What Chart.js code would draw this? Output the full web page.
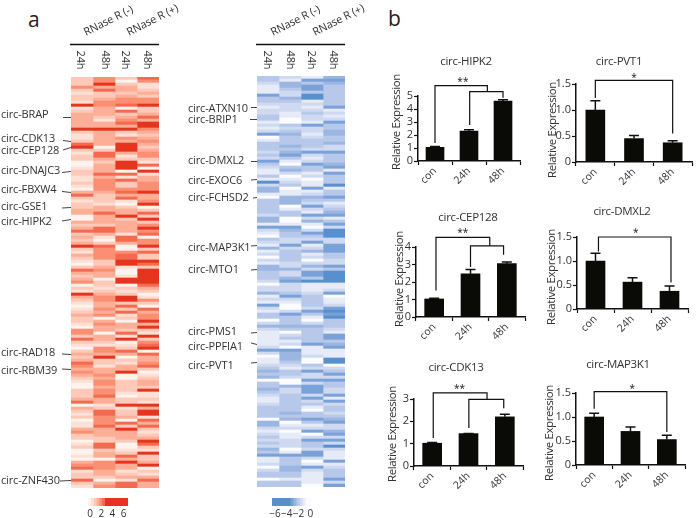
<!DOCTYPE html>
<html lang="en">
<head>
<meta charset="UTF-8" />
<title>circRNA heatmaps and qPCR</title>
<script src="https://cdn.jsdelivr.net/npm/chart.js@4"></script>
<style>
html, body { margin: 0; padding: 0; background: #fff; overflow: hidden; }
#page { position: relative; width: 696px; height: 518px; overflow: hidden; }
canvas { position: absolute; filter: blur(0.4px); }
.letter { position: absolute; font: 21px "Open Sans", sans-serif; color: #222; line-height: 24px; }
</style>
</head>
<body>
<div id="page">
    <div class="letter" style="left:28px;top:7px">a</div>
    <div class="letter" style="left:388px;top:6px">b</div>
</div>
<script>

// heatmap columns, one number per row
const redCol1 = [
    2,2,2,4,2,1,2,2,1,6, 1,2,3,3,3,3,3,6,2,1, 1,2,5,6,2,1,2,2,0,0, 1,2,2,1,1,2,1,0,3,5,
    2,1,2,2,3,3,0,0,3,2, 3,5,2,3,2,3,6,2,1,3, 2,1,0,2,5,3,2,3,4,0, 2,1,6,3,2,1,0,1,2,3,
    2,2,1,0,4,4,2,5,2,1, 0,2,3,2,3,5,4,3,4,3, 2,1,0,0,2,2,2,3,5,0, 3,2,1,2,0,1,1,3,4,2,
    2,0,1,2,0,0,1,0,3,4, 5,1,2,2,5,2,1];
const redCol2 = [
    4,4,6,3,5,2,2,3,4,4, 3,3,3,2,1,3,3,6,3,3, 3,3,3,0,2,5,5,3,2,3, 3,3,5,3,4,4,4,4,3,2,
    2,2,1,3,3,5,3,3,3,2, 5,5,3,1,0,2,5,4,4,4, 4,2,2,3,4,3,3,0,2,2, 1,2,3,4,4,3,3,4,3,4,
    0,3,4,3,3,0,3,3,2,1, 4,4,3,6,2,2,1,3,3,4, 3,4,4,3,4,4,5,3,3,1, 2,5,5,4,4,4,5,3,3,3,
    2,2,5,5,2,3,3,0,4,4, 4,3,3,2,0,3,4];
const redCol3 = [
    2,0,2,3,3,2,3,4,4,5, 0,5,2,3,4,5,3,6,2,1, 4,3,6,6,6,3,1,2,6,6, 6,0,5,1,5,2,2,4,5,3,
    5,1,0,2,3,3,6,2,3,3, 3,3,1,5,5,3,0,0,4,5, 5,6,6,1,0,0,1,6,6,0, 2,1,2,6,6,2,5,2,5,1,
    2,0,3,3,2,5,1,6,0,1, 2,5,3,0,2,1,3,3,6,0, 0,2,2,2,2,1,0,2,2,6, 1,2,2,3,0,5,2,6,3,3,
    3,2,0,0,1,2,5,3,6,3, 3,1,2,3,1,5,5];
const redCol4 = [
    5,4,1,1,2,3,2,4,4,6, 2,2,3,5,3,6,6,4,3,2, 3,4,3,2,3,4,4,2,1,5, 0,6,1,3,3,4,4,4,6,3,
    3,4,6,0,2,5,2,6,2,4, 6,4,5,0,4,4,6,2,5,2, 2,6,5,2,6,6,6,6,6,5, 3,2,0,1,4,2,0,5,3,4,
    4,6,3,6,2,1,6,2,4,5, 6,0,5,3,3,4,5,2,0,1, 2,3,3,2,6,1,1,2,1,6, 3,6,6,1,5,3,5,2,1,2,
    3,6,5,2,1,6,2,2,3,6, 0,2,1,3,5,3,3];

const blueCol1 = [
    -3,-3,-2,-1,-1,-1,-5,-3,-3,-2, -1,-2,-2,-3,-3,-1,-2,-1,-2,-5, 0,-1,-3,-3,-3,-2,-3,-2,-5,-3,
    -2,-1,-1,-3,-1,-6,-2,-4,-4,-1, 0,-3,-3,-3,-3,-3,-2,-4,-4,-1, -5,-2,-1,0,-3,-2,-1,-4,-1,-2,
    0,-2,-1,-4,-4,-3,-3,-3,-2,0, -2,-2,-4,-1,-2,-1,-5,-2,-1,-3, -3,0,-2,-4,-2,-1,-1,-1,-1,-1,
    -2,-5,-2,0,-1,-1,-2,-3,-4,-3, -4,0,-3,-3,-4,-3,-2,-1,-1,-2, -3,-3,-3,-3,0,-4,-4,-2,-1,-2,
    -3,-2,-3,-2,-4,-3,-5,-1,-1,-2, 0,-2,-3,-3,0,-3,-3];
const blueCol2 = [
    -2,-1,-4,-4,-3,-2,-2,-4,-3,-2, -2,-2,-1,-1,0,0,-3,-2,-3,-4, -3,-3,-3,-4,-3,-4,-5,-3,-1,0,
    -3,-4,-2,0,-1,-2,-3,0,-1,-1, -4,-4,-4,0,-1,-3,-3,0,0,-1, -5,-4,-3,-3,-2,-2,-5,-2,-3,-3,
    -3,-3,-2,-2,-4,-2,-2,-4,-5,-2, -2,-2,-3,-5,-2,-1,0,0,-2,-5, -3,-3,-3,-4,-3,0,-2,-3,-1,-2,
    0,-5,-4,-4,-4,-3,-2,-1,-3,-3, -2,0,0,-4,-2,-2,-3,-3,-3,-3, -3,-3,-4,-3,-4,0,-1,-2,0,-1,
    -1,-2,-2,-2,0,-1,-5,-3,-3,-3, -4,-4,-3,-3,-1,-3,-3];
const blueCol3 = [
    -1,-5,-3,-5,-5,-3,-6,-6,-1,-2, -1,-2,-3,-2,-2,-1,-5,-2,-2,-1, -2,-3,-3,-3,-2,-5,-2,-1,-2,-5,
    -3,-3,-1,-2,0,-1,-1,-5,-1,-2, -4,-3,-2,-5,-2,-1,-5,-2,-4,-1, 0,-2,-5,-3,-2,-5,-1,-2,-4,-1,
    -2,0,-2,-4,-2,-5,-5,-3,-6,-1, -1,-1,-2,-3,-3,-3,-3,-2,-5,-3, -1,0,-2,-4,-3,-3,-3,-3,-3,-5,
    -1,-1,-1,-2,0,0,-3,-2,-5,-2, -2,-5,-2,-5,-5,-5,-2,-5,-2,-3, -1,0,-3,-3,-5,-3,-1,-2,-5,0,
    -2,-5,-3,-3,-2,-5,-5,-2,0,-1, -5,-2,-1,-1,-1,-1,0];
const blueCol4 = [
    -4,-5,-4,-3,-3,-3,-3,-3,-3,-3, -5,-1,-2,-1,-2,-5,-3,-3,-4,-4, -3,-3,-4,-2,-2,-5,-3,-3,-3,-4,
    -5,-1,-5,-3,-3,-3,-6,-1,-3,-3, -5,-3,-1,-2,-3,-4,-5,-1,-3,-5, -2,-6,-6,-6,-2,-2,-5,-5,-5,-3,
    -3,-2,-2,-5,-3,-6,-6,-6,-6,-1, -1,-2,-5,0,-1,-1,-2,-5,-6,-5, -6,-3,-3,-3,-2,-1,-5,-5,-3,-4,
    -5,-1,-1,-1,-6,-6,0,-2,-3,-5, -2,-5,-3,-3,-2,-2,-5,-1,-5,-2, -3,-3,-2,-3,-4,-5,-2,-2,-4,-5,
    -2,-5,-2,-6,-2,-1,-1,-1,-5,-1, -2,-3,-3,-3,-5,-2,-5];

const redGenes = ['circ-BRAP','circ-CDK13','circ-CEP128','circ-DNAJC3','circ-FBXW4','circ-GSE1','circ-HIPK2','circ-RAD18','circ-RBM39','circ-ZNF430'];
const redGeneRows = [13,21,23,31,38,43,47,92,97,134];
const blueGenes = ['circ-ATXN10','circ-BRIP1','circ-DMXL2','circ-EXOC6','circ-FCHSD2','circ-MAP3K1','circ-MTO1','circ-PMS1','circ-PPFIA1','circ-PVT1'];
const blueGeneRows = [10,14,28,34,40,56,64,85,89,95];

const timeLabels = ['24h','48h','24h','48h'];
const headerLabels = ['RNase R (-)','RNase R (+)'];

const redLegendEdges = [-0.4,0.1,0.6,1.1,1.6,2.1,2.6,6.8];
const redLegendLevels = [0,1,2,3,4,5,6];
const blueLegendEdges = [-6.5,-3.4,-2.9,-2.4,-1.9,-1.4,-0.9,0.1];
const blueLegendLevels = [-6,-5,-4,-3,-2,-1,0];

// qPCR bars
const categories = ['con','24h','48h'];
const hipk2Values = [1.05,2.3,4.6];
const hipk2Err = [0.07,0.1,0.12];
const pvt1Values = [1.0,0.45,0.37];
const pvt1Err = [0.18,0.06,0.04];
const cep128Values = [1.03,2.47,3.05];
const cep128Err = [0.04,0.25,0.1];
const dmxl2Values = [1.0,0.56,0.37];
const dmxl2Err = [0.16,0.09,0.11];
const cdk13Values = [1.02,1.45,2.2];
const cdk13Err = [0.03,0.01,0.12];
const map3k1Values = [1.0,0.7,0.53];
const map3k1Err = [0.08,0.09,0.09];

const redStops = ['#fff3ee','#fee0d5','#fdc9b8','#fcae97','#fb8f74','#f46a50','#e5351f'];
const blueStops = ['#fbfcff','#e6ebf7','#cfdaf1','#b7c8ea','#9bb6e1','#7aa2d8','#5890cf'];
const FONT = '"Open Sans", sans-serif';
const TEXT = '#333';

const page = document.getElementById('page');

function addCanvas(left, top, w, h) {
    const c = document.createElement('canvas');
    c.width = w;
    c.height = h;
    c.style.left = left + 'px';
    c.style.top = top + 'px';
    c.style.width = w + 'px';
    c.style.height = h + 'px';
    page.appendChild(c);
    return c.getContext('2d');
}

function heatmap(o) {
    const ctx = addCanvas(o.left, 0, o.width, 500);
    const rows = o.cols[0].map((_, i) => i);
    new Chart(ctx, {
        type: 'bar',
        data: {
            labels: rows,
            datasets: o.cols.map(col => ({
                data: col.map(() => 1),
                backgroundColor: col.map(v => o.stops[Math.abs(v)]),
                borderWidth: 0,
                barPercentage: 1,
                categoryPercentage: 1
            }))
        },
        options: {
            indexAxis: 'y',
            responsive: false,
            animation: false,
            events: [],
            layout: { padding: { left: o.x0 - o.left, right: o.left + o.width - o.x1, top: o.y0, bottom: 500 - o.y1 } },
            plugins: { legend: { display: false }, tooltip: { enabled: false } },
            scales: {
                x: { stacked: true, display: false, min: 0, max: 4 },
                y: { stacked: true, display: false }
            }
        },
        plugins: [{
            id: 'heatDecor',
            afterDraw(chart) {
                const c = chart.ctx;
                const yScale = chart.scales.y;
                c.save();
                c.fillStyle = TEXT;
                c.font = '11px ' + FONT;
                c.letterSpacing = '-0.15px';
                c.textBaseline = 'middle';
                o.genes.forEach((g, i) => {
                    c.textAlign = 'left';
                    c.fillText(g, o.labelX - o.left, o.labelY[i]);
                    c.strokeStyle = '#444';
                    c.lineWidth = 1;
                    c.beginPath();
                    c.moveTo(o.leadX[i] - o.left, o.leadY[i]);
                    c.lineTo(chart.chartArea.left, yScale.getPixelForValue(o.rows[i]));
                    c.stroke();
                });
                // header rule
                c.strokeStyle = '#111';
                c.lineWidth = 1.4;
                c.beginPath();
                c.moveTo(o.x0 - o.left - 1, 44.5);
                c.lineTo(o.x1 - o.left, 44.5);
                c.stroke();
                headerLabels.forEach((t, i) => {
                    c.save();
                    c.translate(o.headX[i] - o.left, 36);
                    c.rotate(-27 * Math.PI / 180);
                    c.textAlign = 'left';
                    c.textBaseline = 'alphabetic';
                    c.fillText(t, 0, 0);
                    c.restore();
                });
                timeLabels.forEach((t, i) => {
                    c.save();
                    c.translate(o.timeX[i] - o.left, 60);
                    c.rotate(Math.PI / 2);
                    c.textAlign = 'center';
                    c.fillText(t, 0, 0);
                    c.restore();
                });
                c.restore();
            }
        }]
    });
}

function colorbar(o) {
    const pad = 10;
    const ctx = addCanvas(o.x0 - pad, 498, o.x1 - o.x0 + 2 * pad, 20);
    new Chart(ctx, {
        type: 'bar',
        data: {
            labels: ['scale'],
            datasets: o.levels.map((lv, i) => ({
                data: [[o.edges[i], o.edges[i + 1]]],
                backgroundColor: o.stops[Math.abs(lv)],
                borderWidth: 0,
                grouped: false,
                barPercentage: 1,
                categoryPercentage: 1
            }))
        },
        options: {
            indexAxis: 'y',
            responsive: false,
            animation: false,
            events: [],
            layout: { padding: { left: pad, right: pad, top: 0, bottom: 0 } },
            plugins: { legend: { display: false }, tooltip: { enabled: false } },
            scales: {
                y: { display: false },
                x: {
                    min: o.edges[0],
                    max: o.edges[o.edges.length - 1],
                    grid: { display: false, drawTicks: false },
                    border: { display: false },
                    ticks: {
                        stepSize: 2,
                        autoSkip: false,
                        includeBounds: false,
                        maxRotation: 0,
                        padding: 2,
                        color: TEXT,
                        font: { family: FONT, size: 10 },
                        callback: v => String(v).replace('-', '\u2212')
                    },
                    afterFit(s) { s.height = 12; s.paddingLeft = 0; s.paddingRight = 0; }
                }
            }
        }
    });
}

heatmap({
    left: 0, width: 190, x0: 71, x1: 159, y0: 77, y1: 488,
    cols: [redCol1, redCol2, redCol3, redCol4], stops: redStops,
    genes: redGenes, rows: redGeneRows, labelX: 1,
    labelY: [115,139,151,171,190,207,222,353,371,481],
    leadX: [63,63,63,62,62,62,62,62,62,60],
    leadY: [117.5,140.5,150,172.5,191.5,208,221,354,369,481],
    headX: [86,129], timeX: [80,105,125,147]
});
heatmap({
    left: 180, width: 195, x0: 257, x1: 345, y0: 76, y1: 487,
    cols: [blueCol1, blueCol2, blueCol3, blueCol4], stops: blueStops,
    genes: blueGenes, rows: blueGeneRows, labelX: 188,
    labelY: [109,120,161,181,198,248,270,332,347,366],
    leadX: [251,250,251,251,253,251,251,251,251,251],
    leadY: [107.5,119.5,161.5,180,198,246,270,333,343,363],
    headX: [273,315], timeX: [267,290,311,333]
});
colorbar({ x0: 88, x1: 128, edges: redLegendEdges, levels: redLegendLevels, stops: redStops });
colorbar({ x0: 272, x1: 311, edges: blueLegendEdges, levels: blueLegendLevels, stops: blueStops });

function barPanel(o) {
    const left = o.yTitleX - 9;
    const top = o.titleY - 10;
    const bottom = o.y0 + 34;
    const right = Math.min(696, o.x1 + 6);
    const ctx = addCanvas(left, top, right - left, bottom - top);
    new Chart(ctx, {
        type: 'bar',
        data: {
            labels: categories,
            datasets: [{ data: o.values, backgroundColor: '#0a0a06', borderWidth: 0, barThickness: o.barW }]
        },
        options: {
            responsive: false,
            animation: false,
            events: [],
            layout: { padding: { left: 0, right: right - o.x1, top: o.yTop - top, bottom: 0 } },
            plugins: { legend: { display: false }, tooltip: { enabled: false } },
            scales: {
                x: {
                    grid: { drawOnChartArea: false, tickLength: 4, tickColor: '#111', tickWidth: 1.2 },
                    border: { color: '#111', width: 1.5 },
                    ticks: { color: TEXT, minRotation: 45, maxRotation: 45, padding: 0, font: { family: FONT, size: 10.5 } },
                    afterFit(s) { s.height = bottom - o.y0; s.paddingLeft = 0; s.paddingRight = 0; }
                },
                y: {
                    min: 0,
                    max: o.max,
                    grid: { drawOnChartArea: false, tickLength: 4, tickColor: '#111', tickWidth: 1.2 },
                    border: { color: '#111', width: 1.5 },
                    ticks: { color: TEXT, stepSize: o.step, autoSkip: false, padding: 1, font: { family: FONT, size: 11 } },
                    afterFit(s) { s.width = o.x0 - left; s.paddingTop = 0; s.paddingBottom = 0; }
                }
            }
        },
        plugins: [{
            id: 'panelDecor',
            afterDatasetsDraw(chart) {
                const c = chart.ctx;
                const xs = chart.scales.x;
                const ys = chart.scales.y;
                c.save();
                // error bars
                c.strokeStyle = '#111';
                c.lineWidth = 1.5;
                o.values.forEach((v, i) => {
                    const px = xs.getPixelForValue(i);
                    const top = ys.getPixelForValue(v + o.err[i]);
                    c.beginPath();
                    c.moveTo(px, ys.getPixelForValue(v));
                    c.lineTo(px, top);
                    c.moveTo(px - 5, top);
                    c.lineTo(px + 5, top);
                    c.stroke();
                });
                // significance brackets, x as category position and y as value
                const toX = a => xs.getPixelForValue(0) + a * (xs.getPixelForValue(1) - xs.getPixelForValue(0));
                c.lineWidth = 1.2;
                o.brackets.forEach(line => {
                    c.beginPath();
                    line.forEach((p, i) => {
                        if (i === 0) c.moveTo(toX(p[0]), ys.getPixelForValue(p[1]));
                        else c.lineTo(toX(p[0]), ys.getPixelForValue(p[1]));
                    });
                    c.stroke();
                });
                c.fillStyle = '#111';
                c.font = '10px ' + FONT;
                c.textAlign = 'center';
                c.textBaseline = 'middle';
                c.fillText(o.star, toX(o.starAt[0]), ys.getPixelForValue(o.starAt[1]));
                // panel title and y title
                c.fillStyle = TEXT;
                c.font = '11.5px ' + FONT;
                c.letterSpacing = '-0.3px';
                c.fillText(o.title, o.titleX - left, o.titleY - top);
                c.save();
                c.translate(o.yTitleX - left, o.yTitleC - top);
                c.rotate(-Math.PI / 2);
                c.font = '11.5px ' + FONT;
                c.letterSpacing = '-0.4px';
                c.fillText('Relative Expression', 0, 0);
                c.restore();
                c.restore();
            }
        }]
    });
}

barPanel({
    title: 'circ-HIPK2', values: hipk2Values, err: hipk2Err, max: 5, step: 1, barW: 18,
    x0: 418, x1: 520, y0: 161, yTop: 96, titleX: 466, titleY: 62, yTitleX: 397, yTitleC: 122,
    brackets: [[[0,1.38],[0,5.8],[1.54,5.8],[1.54,5.33]], [[1.02,2.77],[1.02,5.33],[2,5.33],[2,4.87]]],
    star: '**', starAt: [0.82,6.1]
});
barPanel({
    title: 'circ-PVT1', values: pvt1Values, err: pvt1Err, max: 1.5, step: 0.5, barW: 19,
    x0: 576, x1: 692, y0: 162, yTop: 84, titleX: 619, titleY: 62, yTitleX: 553, yTitleC: 130,
    brackets: [[[0,1.23],[0,1.57],[2,1.57],[2,0.55]]],
    star: '*', starAt: [1,1.62]
});
barPanel({
    title: 'circ-CEP128', values: cep128Values, err: cep128Err, max: 4, step: 1, barW: 19,
    x0: 416, x1: 525, y0: 317, yTop: 247, titleX: 468, titleY: 218, yTitleX: 400, yTitleC: 279,
    brackets: [[[0.05,1.52],[0.05,4.55],[1.53,4.55],[1.53,4.07]], [[1,2.86],[1,4.07],[1.91,4.07],[1.91,3.56]]],
    star: '**', starAt: [0.79,4.8]
});
barPanel({
    title: 'circ-DMXL2', values: dmxl2Values, err: dmxl2Err, max: 1.5, step: 0.5, barW: 19,
    x0: 577, x1: 688, y0: 309, yTop: 237, titleX: 622, titleY: 212, yTitleX: 552, yTitleC: 277,
    brackets: [[[0.08,1.2],[0.08,1.5],[2.04,1.5],[2.04,0.55]]],
    star: '*', starAt: [1.09,1.59]
});
barPanel({
    title: 'circ-CDK13', values: cdk13Values, err: cdk13Err, max: 3, step: 1, barW: 19,
    x0: 414, x1: 523, y0: 466, yTop: 399, titleX: 456, titleY: 368, yTitleX: 393, yTitleC: 434,
    brackets: [[[0.03,1.25],[0.03,3.27],[1.51,3.27],[1.51,2.98]], [[1.01,1.7],[1.01,2.98],[1.97,2.98],[1.97,2.59]]],
    star: '**', starAt: [0.75,3.44]
});
barPanel({
    title: 'circ-MAP3K1', values: map3k1Values, err: map3k1Err, max: 1.5, step: 0.5, barW: 19,
    x0: 576, x1: 685, y0: 465, yTop: 393, titleX: 618, titleY: 365, yTitleX: 550, yTitleC: 433,
    brackets: [[[0,1.17],[0,1.53],[2,1.53],[2,0.69]]],
    star: '*', starAt: [1.05,1.58]
});

</script>
</body>
</html>
